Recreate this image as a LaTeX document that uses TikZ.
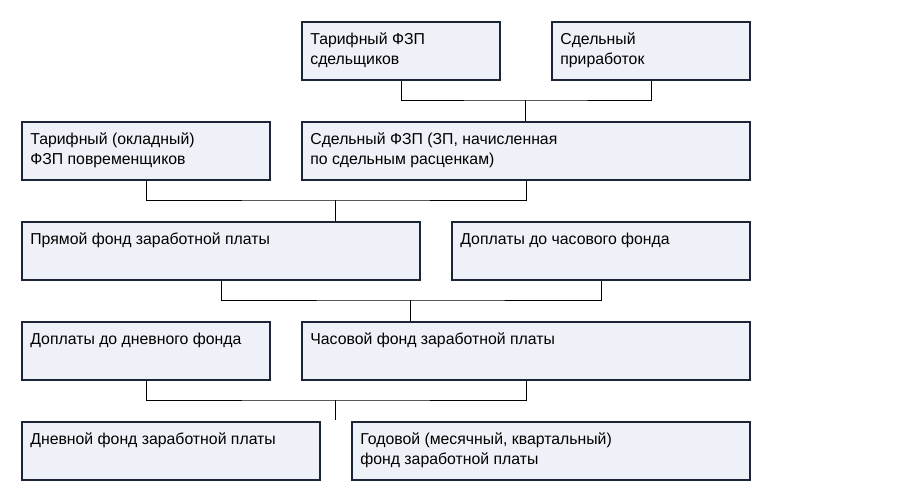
\documentclass[tikz,border=0pt]{standalone}
\usepackage{fontspec}
\setmainfont{Liberation Sans}
\usetikzlibrary{positioning}
\definecolor{boxfill}{HTML}{EEF1F8}
\definecolor{boxline}{HTML}{1C2438}
\tikzset{
  box/.style={draw=boxline, line width=1.2pt, fill=boxfill, anchor=north west,
    inner sep=0pt, minimum width=#1},
  txt/.style={anchor=north west, inner sep=0pt, align=left,
    font=\fontsize{9}{11.4}\selectfont},
  link/.style={draw=black, line width=0.5pt},
}
% box: name, top-left corner, width in px, text
\newcommand{\fzbox}[5]{%
  \node[box=#3*0.02cm, minimum height=1.16cm] (#1) at (#2) {};
  \node[txt] (#1t) at ([xshift=0.18cm, yshift=-0.23cm]#1.north west) {#5};}
\begin{document}
\begin{tikzpicture}[x=0.02cm, y=-0.02cm]
  \useasboundingbox (0,0) rectangle (900,500);
  % row 1
  \fzbox{tarsd}{301,21}{198}{}{Тарифный ФЗП\\сдельщиков}
  \fzbox{prir}{551,21}{198}{}{Сдельный\\приработок}
  % row 2
  \fzbox{tarpov}{21,121}{248}{}{Тарифный (окладный)\\ФЗП повременщиков}
  \fzbox{sdel}{301,121}{448}{}{Сдельный ФЗП (ЗП, начисленная\\по сдельным расценкам)}
  % row 3
  \fzbox{pryam}{21,221}{398}{}{Прямой фонд заработной платы}
  \fzbox{dopch}{451,221}{298}{}{Доплаты до часового фонда}
  % row 4
  \fzbox{dopdn}{21,321}{248}{}{Доплаты до дневного фонда}
  \fzbox{chas}{301,321}{448}{}{Часовой фонд заработной платы}
  % row 5
  \fzbox{dnev}{21,421}{298}{}{Дневной фонд заработной платы}
  \fzbox{god}{351,421}{398}{}{Годовой (месячный, квартальный)\\фонд заработной платы}
  \coordinate (gap) at (335,420);
  % connectors
  \draw[link] (tarsd.south) |- (525,100) -| (prir.south);
  \draw[link] (525,100) -- (sdel.north -| 525,0);
  \draw[link] (tarpov.south) |- (335,200) -| (sdel.south);
  \draw[link] (335,200) -- (pryam.north -| 335,0);
  \draw[link] (pryam.south) |- (410,300) -| (dopch.south);
  \draw[link] (410,300) -- (chas.north -| 410,0);
  \draw[link] (dopdn.south) |- (335,400) -| (chas.south);
  \draw[link] (335,400) -- (gap);
\end{tikzpicture}
\end{document}
